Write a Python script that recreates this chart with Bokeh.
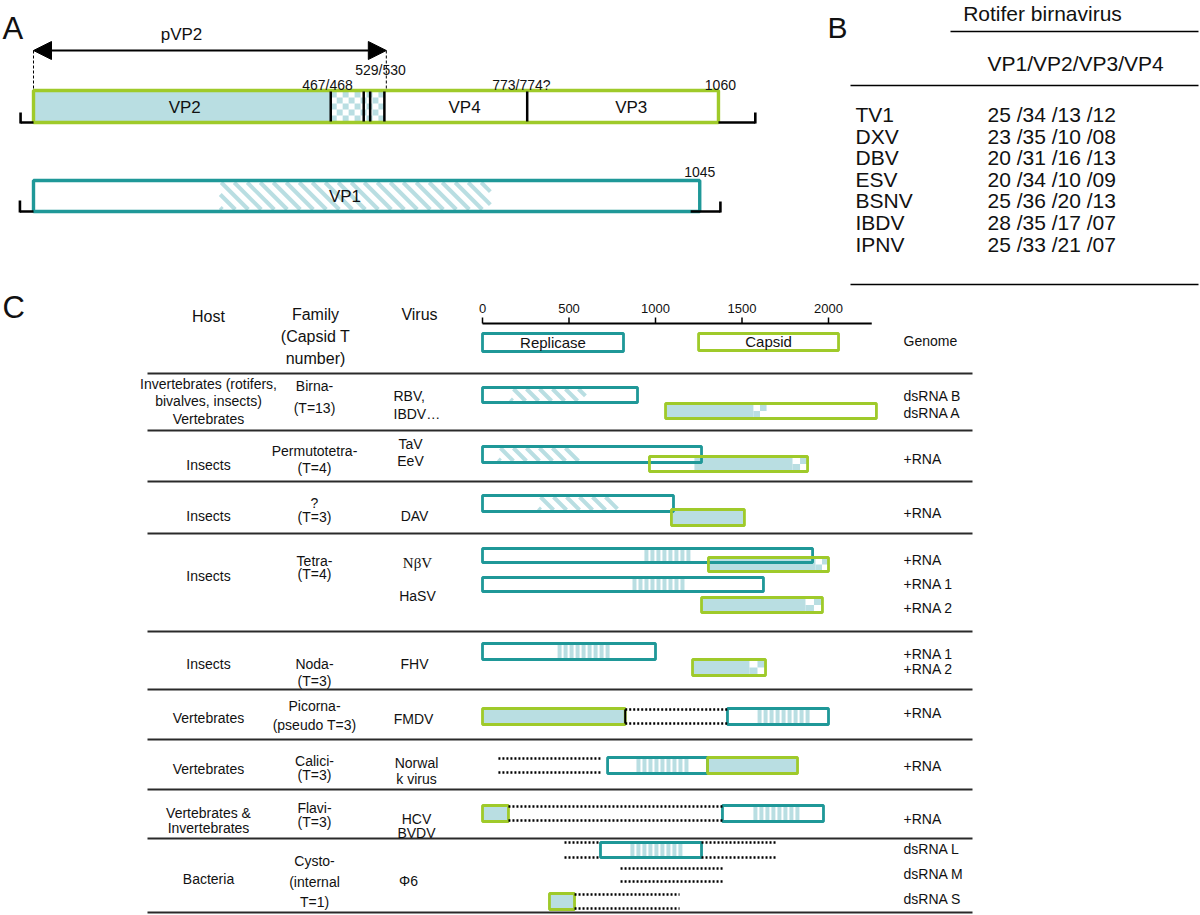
import numpy as np
from bokeh.plotting import figure
from bokeh.models import Range1d, Arrow, NormalHead
from bokeh.core.properties import value
from bokeh.embed import file_html
from bokeh.resources import INLINE

# ======================= DATA =======================
# ---- Panel A: rotifer birnavirus polyprotein (segment A) and VP1 (segment B), aa ----
A_POLY_LEN = 1060
A_VP2_END = 460
A_CLEAVAGE_LINES = [460, 511, 521, 543]
A_VP4_VP3 = 764
A_PVP2_END = 546
A_VP1_LEN = 1031
A_VP1_MOTIF = (289, 707)
A_SITE_LABELS = ["467/468", "529/530", "773/774?", "1060", "1045"]
A_PROTEIN_LABELS = ["VP2", "VP4", "VP3", "VP1"]

# ---- Panel B: % identity with rotifer birnavirus ----
B_HEADER = "Rotifer birnavirus"
B_SUBHEADER = "VP1/VP2/VP3/VP4"
B_VIRUSES = ["TV1", "DXV", "DBV", "ESV", "BSNV", "IBDV", "IPNV"]
B_IDENTITY = ["25 /34 /13 /12", "23 /35 /10 /08", "20 /31 /16 /13", "20 /34 /10 /09",
              "25 /36 /20 /13", "28 /35 /17 /07", "25 /33 /21 /07"]

# ---- Panel C: genome organisation (aa scale) ----
C_TICKS = [0, 500, 1000, 1500, 2000]
C_TICK_LABELS = ["0", "500", "1000", "1500", "2000"]
C_AXIS_END = 2250
C_HEADERS = ["Host", "Family", "(Capsid T", "number)", "Virus"]
C_HOSTS = [["Invertebrates (rotifers,", "bivalves, insects)", "Vertebrates"], ["Insects"], ["Insects"],
           ["Insects"], ["Insects"], ["Vertebrates"], ["Vertebrates"],
           ["Vertebrates &", "Invertebrates"], ["Bacteria"]]
C_FAMILIES = [["Birna-", "(T=13)"], ["Permutotetra-", "(T=4)"], ["?", "(T=3)"], ["Tetra-", "(T=4)"],
              ["Noda-", "(T=3)"], ["Picorna-", "(pseudo T=3)"], ["Calici-", "(T=3)"],
              ["Flavi-", "(T=3)"], ["Cysto-", "(internal", "T=1)"]]
C_VIRUSES = [["RBV,", "IBDV…"], ["TaV", "EeV"], ["DAV"], ["NβV", "HaSV"], ["FHV"], ["FMDV"],
             ["Norwal", "k virus"], ["HCV", "BVDV"], ["Φ6"]]
C_SEGMENTS = ["Genome", "dsRNA B", "dsRNA A", "+RNA", "+RNA", "+RNA", "+RNA 1", "+RNA 2",
              "+RNA 1", "+RNA 2", "+RNA", "+RNA", "+RNA", "dsRNA L", "dsRNA M", "dsRNA S"]

# replicase ORFs (teal)
REP_ID = ["genome", "RBV", "TaV", "DAV", "NbV", "HaSV1", "FHV1", "FMDV", "NV", "HCV", "Phi6L"]
REP_START = [0, 0, 0, 0, 0, 0, 0, 1416, 723, 1387, 682]
REP_END = [815, 896, 1266, 1104, 1908, 1624, 1000, 2000, 1301, 1971, 1266]
# capsid ORFs (green)
CAP_ID = ["genome", "RBV", "TaV", "DAV", "NbV", "HaSV2", "FHV2", "FMDV", "NV", "HCV", "Phi6S"]
CAP_START = [1249, 1058, 965, 1092, 1306, 1266, 1214, 0, 1301, 0, 387]
CAP_END = [2058, 2277, 1879, 1514, 2000, 1965, 1636, 825, 1821, 150, 532]
# shaded capsid domain
SHADE_ID = ["RBV", "TaV", "DAV", "NbV", "HaSV2", "FHV2", "FMDV", "NV", "HCV", "Phi6S"]
SHADE_START = [1058, 1225, 1092, 1306, 1266, 1214, 0, 1301, 0, 387]
SHADE_END = [1566, 1792, 1514, 1925, 1867, 1543, 825, 1821, 150, 532]
# checkered capsid region
CHECK_ID = ["RBV", "TaV", "NbV", "HaSV2", "FHV2"]
CHECK_START = [1566, 1792, 1925, 1867, 1543]
CHECK_END = [1642, 1879, 2000, 1965, 1636]
# permuted RdRp motifs (diagonal hatch)
PERM_ID = ["RBV", "TaV", "DAV"]
PERM_START = [162, 92, 324]
PERM_END = [595, 555, 780]
# canonical RdRp motifs (vertical hatch)
CANON_ID = ["NbV", "HaSV1", "FHV1", "FMDV", "NV", "HCV", "Phi6L"]
CANON_START = [936, 867, 434, 1590, 890, 1566, 855]
CANON_END = [1231, 1179, 734, 1896, 1202, 1855, 1162]
# other coding regions (dotted)
DOT_ID = ["FMDV", "NV", "HCV", "Phi6L", "Phi6L", "Phi6M", "Phi6S"]
DOT_START = [825, 92, 150, 474, 1266, 798, 532]
DOT_END = [1416, 688, 1387, 682, 1694, 1399, 1139]

# ======================= LAYOUT / STYLE =======================
TEAL = "#1f9898"
GREEN = "#9fca2a"
LBLUE = "#b9dee2"
INK = "#111111"
FONT = "Liberation Sans"
W, H = 1200, 915

A_X0, A_K = 33, 0.6462      # panel A scale: px of aa 0, px per aa
C_X0, C_K = 482, 0.173      # panel C scale

REP_Y = {"genome": (333, 351), "RBV": (387, 402), "TaV": (446, 462), "DAV": (495, 511),
         "NbV": (548, 562), "HaSV1": (577, 591), "FHV1": (643, 659), "FMDV": (708, 724),
         "NV": (757, 773), "HCV": (805, 821), "Phi6L": (842, 857)}
CAP_Y = {"genome": (333, 350), "RBV": (403, 418), "TaV": (456, 471), "DAV": (509, 525),
         "NbV": (557, 571), "HaSV2": (597, 612), "FHV2": (659, 675), "FMDV": (708, 724),
         "NV": (757, 773), "HCV": (805, 821), "Phi6S": (893, 909)}
DOT_Y = {"FMDV": (709, 723), "NV": (758, 772), "HCV": (806, 820), "Phi6L": (842, 857),
         "Phi6M": (868, 881), "Phi6S": (894, 908)}

HOST_Y = [[383, 400, 418], [464], [515], [575], [663], [717], [768], [812, 827], [878]]
FAM_Y = [[385, 407], [450, 467], [502, 516], [560, 573], [663, 680], [705, 724], [760, 774],
         [807, 821], [860, 881, 901]]
VIR_Y = [[395, 413], [443, 460], [515], [562, 595], [663], [718], [762, 778], [818, 832], [880]]
VIR_X = [393, 410, 414, 417, 414, 413, 416, 416, 408]
VIR_ALIGN = ["left"] + ["center"] * 8
SEG_Y = [340, 395, 412, 458, 512, 559, 583, 607, 653, 668, 712, 765, 818, 848, 873, 898]
SEP_Y = [373, 430, 481, 533, 631, 689, 739, 789, 838, 912]

# ======================= FIGURE =======================
p = figure(width=W, height=H, x_range=Range1d(0, W), y_range=Range1d(H, 0),
           output_backend="svg", toolbar_location=None, min_border=0,
           x_axis_type=None, y_axis_type=None)
p.grid.visible = False
p.outline_line_color = None
p.background_fill_color = "white"
p.border_fill_color = "white"
p.extra_x_ranges = {
    "aa": Range1d((0 - A_X0) / A_K, (W - A_X0) / A_K),
    "nt": Range1d((0 - C_X0) / C_K, (W - C_X0) / C_K),
}


def txt(xs, ys, texts, size, align="center", xrn="default", font=FONT, color=INK):
    p.text(x=list(xs), y=list(ys), text=list(texts), x_range_name=xrn,
           text_font=value(font), text_font_size=size, text_align=align,
           text_baseline="middle", text_color=color)


def checker(start, end, top, bottom, K, rows, cell_px, xrn, phase=0):
    n = max(1, int(round((end - start) * K / cell_px)))
    w = (end - start) / n
    h = (bottom - top) / rows
    L, R, T, B = [], [], [], []
    for i in range(n):
        for j in range(rows):
            if (i + j + phase) % 2 == 0:
                L.append(start + i * w); R.append(start + (i + 1) * w)
                T.append(top + j * h); B.append(top + (j + 1) * h)
    p.quad(left=L, right=R, top=T, bottom=B, x_range_name=xrn,
           fill_color=LBLUE, line_color=None)


def diag(start, end, top, bottom, K, period_px, width, xrn):
    h = bottom - top
    x0, x1 = start * K, end * K
    X0, Y0, X1, Y1 = [], [], [], []
    c = x0 - h + 2
    while c < x1:
        ax, ay, bx, by = c, top, c + h, bottom
        if ax < x0:
            ay += (x0 - ax); ax = x0
        if bx > x1:
            by -= (bx - x1); bx = x1
        if bx > ax:
            X0.append(ax / K); Y0.append(ay); X1.append(bx / K); Y1.append(by)
        c += period_px
    p.segment(x0=X0, y0=Y0, x1=X1, y1=Y1, x_range_name=xrn,
              line_color=LBLUE, line_width=width, line_cap="butt")


def vstripes(start, end, top, bottom, K, period_px, width_px, xrn):
    xs = np.arange(start * K + width_px / 2, end * K - width_px / 2 + 0.5, period_px) / K
    p.segment(x0=xs, y0=[top] * len(xs), x1=xs, y1=[bottom] * len(xs), x_range_name=xrn,
              line_color=LBLUE, line_width=width_px, line_cap="butt")


# ======================= PANEL A =======================
AY_T, AY_B = 90, 122
VY_T, VY_B = 180, 211
p.quad(left=[0], right=[A_VP2_END], top=[AY_T], bottom=[AY_B], x_range_name="aa",
       fill_color=LBLUE, line_color=None)
checker(A_CLEAVAGE_LINES[0], A_CLEAVAGE_LINES[-1], AY_T + 1, AY_B - 1, A_K, 5, 6, "aa")
p.quad(left=[0], right=[A_POLY_LEN], top=[AY_T], bottom=[AY_B], x_range_name="aa",
       fill_color=None, line_color=GREEN, line_width=3.4)
cuts = A_CLEAVAGE_LINES + [A_VP4_VP3]
p.segment(x0=cuts, x1=cuts, y0=[AY_T + 1] * len(cuts), y1=[AY_B - 1] * len(cuts),
          x_range_name="aa", line_color="black", line_width=2.5)
# end brackets
br = dict(x_range_name="aa", line_color="black", line_width=2.6, line_cap="butt")
p.segment(x0=[-20, -20, A_POLY_LEN, 1117], y0=[112, AY_B, AY_B, 112],
          x1=[-20, 0, 1117, 1117], y1=[AY_B + 1, AY_B, AY_B, AY_B + 1], **br)
diag(A_VP1_MOTIF[0], A_VP1_MOTIF[1], VY_T + 2, VY_B - 2, A_K, 13, 4, "aa")
p.quad(left=[0], right=[A_VP1_LEN], top=[VY_T], bottom=[VY_B], x_range_name="aa",
       fill_color=None, line_color=TEAL, line_width=3.4)
p.segment(x0=[-21, -21, 1017, 1063], y0=[200, VY_B, VY_B, 201],
          x1=[-21, 0, 1063, 1063], y1=[VY_B + 1, VY_B, VY_B, VY_B + 1], **br)
# pVP2 arrow and guide lines
p.add_layout(Arrow(x_start=0, x_end=A_PVP2_END, y_start=50, y_end=50, x_range_name="aa",
                   line_width=2, line_color="black",
                   start=NormalHead(size=18, fill_color="black", line_color="black"),
                   end=NormalHead(size=18, fill_color="black", line_color="black")))
p.segment(x0=[0, A_PVP2_END], x1=[0, A_PVP2_END], y0=[50, 50], y1=[AY_T, AY_T],
          x_range_name="aa", line_color="black", line_width=1, line_dash="3 2")
txt([2], [28], ["A"], "31px", align="left")
txt([229], [34], ["pVP2"], "17px", xrn="aa")
txt([455, 537, 755, 1063, 1031], [84, 69, 84, 84, 171], A_SITE_LABELS, "14px", xrn="aa")
txt([234, 667, 925, 482], [107, 107, 107, 196], A_PROTEIN_LABELS, "17px", xrn="aa")

# ======================= PANEL B =======================
txt([827], [27], ["B"], "30px", align="left")
txt([1042], [13], [B_HEADER], "21px")
txt([987], [63], [B_SUBHEADER], "21px", align="left")
p.segment(x0=[950, 850, 850], x1=[1198, 1198, 1198], y0=[31, 85, 284], y1=[31, 85, 284],
          line_color="black", line_width=1.6)
by = [114 + 21.6 * i for i in range(len(B_VIRUSES))]
txt([855] * len(B_VIRUSES), by, B_VIRUSES, "21px", align="left")
txt([987] * len(B_IDENTITY), by, B_IDENTITY, "21px", align="left")

# ======================= PANEL C =======================
txt([2], [307], ["C"], "31px", align="left")
txt([208, 315, 315, 315, 419], [316, 314, 336, 358, 314], C_HEADERS, "16px")
# axis
p.segment(x0=[0], x1=[C_AXIS_END], y0=[323], y1=[323], x_range_name="nt",
          line_color="black", line_width=2.2)
p.segment(x0=C_TICKS, x1=C_TICKS, y0=[317] * len(C_TICKS), y1=[323] * len(C_TICKS),
          x_range_name="nt", line_color="black", line_width=1.5)
txt(C_TICKS, [308] * len(C_TICKS), C_TICK_LABELS, "13px", xrn="nt")
# separators
p.segment(x0=[147] * len(SEP_Y), x1=[972] * len(SEP_Y), y0=SEP_Y, y1=SEP_Y,
          line_color="#2a2a2a", line_width=2)

# shaded capsid domains
p.quad(left=SHADE_START, right=SHADE_END,
       top=[CAP_Y[k][0] for k in SHADE_ID], bottom=[CAP_Y[k][1] for k in SHADE_ID],
       x_range_name="nt", fill_color=LBLUE, line_color=None)
for k, s, e in zip(CHECK_ID, CHECK_START, CHECK_END):
    t, b = CAP_Y[k]
    checker(s, e, t, b, C_K, 2, 7, "nt", phase=1)
for k, s, e in zip(PERM_ID, PERM_START, PERM_END):
    t, b = REP_Y[k]
    diag(s, e, t + 1.5, b - 1.5, C_K, 13, 4, "nt")
for k, s, e in zip(CANON_ID, CANON_START, CANON_END):
    t, b = REP_Y[k]
    vstripes(s, e, t + 1.5, b - 1.5, C_K, 6, 4, "nt")
# ORF outlines
p.quad(left=REP_START, right=REP_END,
       top=[REP_Y[k][0] for k in REP_ID], bottom=[REP_Y[k][1] for k in REP_ID],
       x_range_name="nt", fill_color=None, line_color=TEAL, line_width=2.8)
p.quad(left=CAP_START, right=CAP_END,
       top=[CAP_Y[k][0] for k in CAP_ID], bottom=[CAP_Y[k][1] for k in CAP_ID],
       x_range_name="nt", fill_color=None, line_color=GREEN, line_width=2.8)
# dotted regions (two strands)
dx0, dx1, dy = [], [], []
for k, s, e in zip(DOT_ID, DOT_START, DOT_END):
    t, b = DOT_Y[k]
    dx0 += [s, s]; dx1 += [e, e]; dy += [t, b]
p.segment(x0=dx0, x1=dx1, y0=dy, y1=dy, x_range_name="nt", line_color="black",
          line_width=2.6, line_dash="2 2", line_cap="butt")
p.segment(x0=[DOT_START[0]], x1=[DOT_START[0]], y0=[DOT_Y["FMDV"][0]], y1=[DOT_Y["FMDV"][1]],
          x_range_name="nt", line_color="black", line_width=2)
# labels inside genome boxes
txt([(REP_START[0] + REP_END[0]) / 2, (CAP_START[0] + CAP_END[0]) / 2], [342, 341],
    ["Replicase", "Capsid"], "15px", xrn="nt")

# table text
hx, hy, ht = [], [], []
fx, fy, ft = [], [], []
for lines, ys in zip(C_HOSTS, HOST_Y):
    hx += [208] * len(lines); hy += ys; ht += lines
for lines, ys in zip(C_FAMILIES, FAM_Y):
    fx += [314] * len(lines); fy += ys; ft += lines
txt(hx, hy, ht, "14px")
txt(fx, fy, ft, "14px")
for lines, ys, x, al in zip(C_VIRUSES, VIR_Y, VIR_X, VIR_ALIGN):
    for line, y in zip(lines, ys):
        font = "Liberation Serif" if "β" in line else FONT
        txt([x], [y], [line], "14px" if font == FONT else "15px", align=al, font=font)
txt([903] * len(C_SEGMENTS), SEG_Y, C_SEGMENTS, "14px", align="left")

open("out.html", "w").write(file_html(p, INLINE))
